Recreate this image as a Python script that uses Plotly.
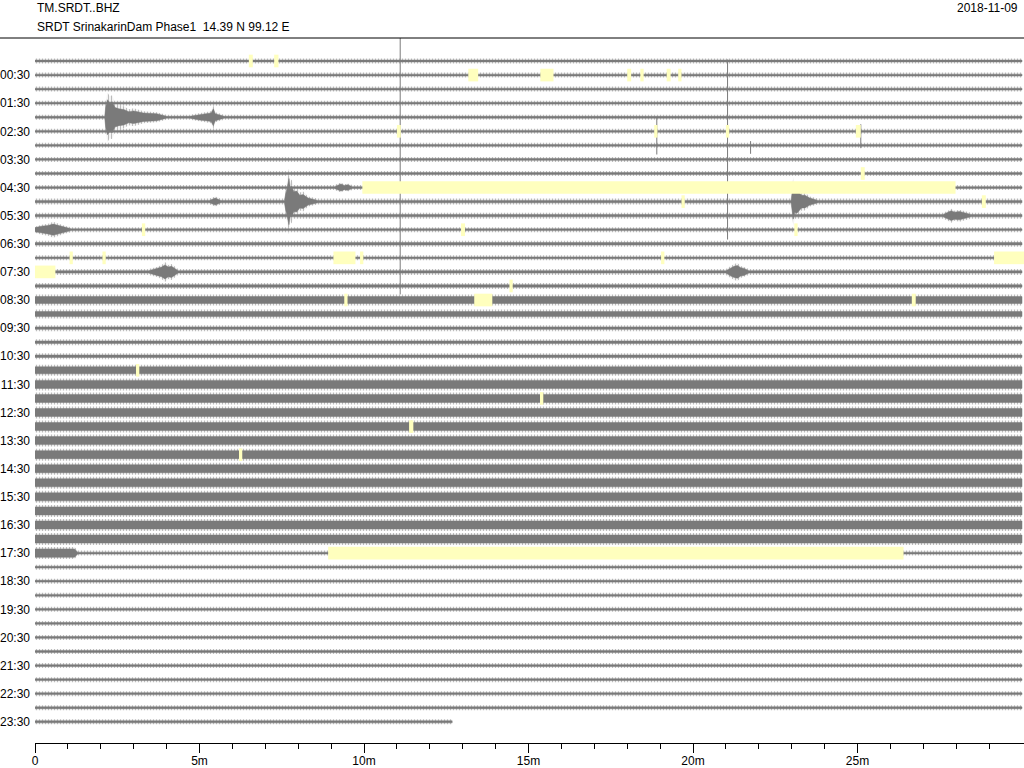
import plotly.graph_objects as go

# header text
channel = "TM.SRDT..BHZ"
station = "SRDT SrinakarinDam Phase1  14.39 N 99.12 E"
day = "2018-11-09"

# one line per 30 minutes, labels on the :30 lines
hour_labels = ["00:30", "01:30", "02:30", "03:30", "04:30", "05:30", "06:30", "07:30",
               "08:30", "09:30", "10:30", "11:30", "12:30", "13:30", "14:30", "15:30",
               "16:30", "17:30", "18:30", "19:30", "20:30", "21:30", "22:30", "23:30"]
label_rows = list(range(1, 48, 2))

minute_ticks = [0, 5, 10, 15, 20, 25]
minute_text = ["0", "5m", "10m", "15m", "20m", "25m"]

# background noise per line (half height of spikes / of the dense core)
noise_peak = [2.5, 2.5, 2.5, 2.5, 2.5, 2.5, 2.5, 2.5,
              2.5, 2.5, 3.0, 3.0, 2.5, 3.0, 2.5, 3.0,
              3.0, 5.5, 4.5, 3.0, 3.0, 3.0, 5.5, 6.0,
              6.0, 6.0, 6.0, 6.0, 6.0, 6.0, 6.0, 6.0,
              6.0, 6.0, 6.0, 2.5, 2.5, 2.5, 2.5, 2.5,
              2.5, 2.5, 2.5, 2.5, 2.5, 2.5, 2.5, 2.5]
noise_core = [0.9, 0.9, 0.9, 0.9, 0.9, 0.9, 0.9, 0.9,
              0.9, 0.9, 1.2, 1.2, 0.9, 1.2, 0.9, 1.2,
              1.2, 3.5, 2.5, 1.2, 1.2, 1.2, 3.5, 4.0,
              4.0, 4.0, 4.0, 4.0, 4.0, 4.0, 4.0, 4.0,
              4.0, 4.0, 4.0, 0.9, 0.9, 0.9, 0.9, 0.9,
              0.9, 0.9, 0.9, 0.9, 0.9, 0.9, 0.9, 1.0]
line_minutes = 30
last_line_minutes = 12.68

# events: line, envelope vertices (minute, amplitude); 0 = back to noise level
events = [
    (4, [(2.12, 0), (2.15, 15), (2.2, 25), (2.27, 21), (2.35, 22), (2.43, 14), (2.55, 12),
         (2.7, 11), (2.85, 8), (3.0, 9), (3.3, 6), (3.7, 5), (4.0, 0)]),
    (4, [(4.7, 0), (5.0, 4), (5.2, 5), (5.35, 6), (5.42, 12), (5.48, 5), (5.75, 0)]),
    (9, [(9.1, 0), (9.3, 5), (9.4, 3), (9.5, 4), (9.65, 0)]),
    (10, [(5.3, 0), (5.48, 5), (5.65, 0)]),
    (10, [(7.58, 0), (7.63, 14), (7.67, 24), (7.72, 33), (7.76, 20), (7.8, 22), (7.87, 14),
          (7.95, 15), (8.05, 9), (8.15, 10), (8.3, 5), (8.6, 0)]),
    (10, [(22.98, 0), (23.02, 16), (23.05, 25), (23.1, 15), (23.15, 17), (23.3, 9),
          (23.4, 9), (23.55, 5), (23.8, 0)]),
    (11, [(27.6, 0), (27.75, 5), (27.85, 7), (27.95, 5), (28.1, 6), (28.45, 0)]),
    (12, [(0.0, 3), (0.2, 5), (0.4, 6), (0.55, 8), (0.7, 6), (0.9, 4), (1.1, 0)]),
    (15, [(3.45, 0), (3.7, 5), (3.85, 7), (3.95, 10), (4.05, 7), (4.15, 8), (4.35, 0)]),
    (15, [(21.0, 0), (21.15, 6), (21.25, 8), (21.35, 9), (21.45, 6), (21.55, 5), (21.7, 0)]),
    (35, [(0.0, 6), (1.2, 6), (1.3, 0)]),
]

# single glitches: minute, top line, bottom line
glitches = [
    (11.1, -1.7, 16.6),
    (21.05, -0.1, 12.7),
    (18.9, 4.0, 6.65),
    (25.1, 4.5, 6.2),
    (21.75, 5.7, 6.6),
]

# data gaps: line, start minute, end minute
gaps = [
    (0, 6.5, 6.62), (0, 7.27, 7.4),
    (1, 13.17, 13.47), (1, 15.36, 15.76), (1, 18.0, 18.12), (1, 18.4, 18.5),
    (1, 19.2, 19.32), (1, 19.55, 19.65),
    (5, 11.0, 11.12), (5, 18.82, 18.92), (5, 21.0, 21.1), (5, 24.95, 25.1),
    (8, 25.1, 25.22),
    (9, 9.95, 27.98),
    (10, 19.65, 19.75), (10, 28.78, 28.9),
    (12, 3.25, 3.35), (12, 12.95, 13.07), (12, 23.08, 23.18),
    (14, 1.05, 1.15), (14, 2.05, 2.15), (14, 9.07, 9.74), (14, 9.88, 9.98),
    (14, 19.03, 19.13), (14, 29.15, 30.1),
    (15, 0.0, 0.62),
    (16, 14.42, 14.52),
    (17, 9.4, 9.5), (17, 13.35, 13.9), (17, 26.65, 26.77),
    (22, 3.07, 3.17),
    (24, 15.35, 15.45),
    (26, 11.37, 11.5),
    (28, 6.2, 6.3),
    (35, 8.91, 26.4),
]

PX = 14.06  # pixels per line
GREY = "#7a7a7a"
GAP_COLOR = "rgb(255,255,190)"


def band(levels, factor):
    xs, ys = [], []
    for r, base in enumerate(levels):
        end = last_line_minutes if r == 47 else line_minutes
        pts = [(0.0, base)]
        for er, verts in events:
            if er == r:
                pts += [(t, max(base, a * factor)) for t, a in verts]
        pts.append((end, base))
        pts.sort()
        xs += [t for t, _ in pts] + [t for t, _ in reversed(pts)] + [None]
        ys += [r - a / PX for _, a in pts] + [r + a / PX for _, a in reversed(pts)] + [None]
    return xs, ys


fig = go.Figure()

px_, py_ = band(noise_peak, 1.0)
fig.add_trace(go.Scatter(
    x=px_, y=py_, mode="lines", fill="toself", line=dict(width=0),
    fillcolor="rgba(0,0,0,0)",
    fillpattern=dict(shape="|", size=3, solidity=0.45, fgcolor=GREY, bgcolor="rgba(0,0,0,0)"),
    hoverinfo="skip", showlegend=False))

cx, cy = band(noise_core, 0.7)
fig.add_trace(go.Scatter(
    x=cx, y=cy, mode="lines", fill="toself", line=dict(width=0.5, color=GREY),
    fillcolor=GREY, hoverinfo="skip", showlegend=False))

gx, gy = [], []
for t, y0, y1 in glitches:
    gx += [t, t, None]
    gy += [y0, y1, None]
fig.add_trace(go.Scatter(x=gx, y=gy, mode="lines", line=dict(width=1, color=GREY),
                         hoverinfo="skip", showlegend=False))

for r, t0, t1 in gaps:
    fig.add_shape(type="rect", xref="x", yref="y", x0=t0, x1=t1,
                  y0=r - 0.45, y1=r + 0.45, fillcolor=GAP_COLOR,
                  line=dict(width=0), layer="above")

W, H = 1024, 768
L, R, T, B = 35, 0, 38, 25
pw, ph = W - L - R, H - T - B


def paper_x(px):
    return (px - L) / pw


def paper_y(py):
    return (H - B - py) / ph


fig.add_shape(type="line", xref="paper", yref="paper",
              x0=paper_x(0), x1=1, y0=1, y1=1, line=dict(color="black", width=1))

font = dict(family="Liberation Sans, Arial, sans-serif", size=12, color="black")
fig.add_annotation(text=channel, xref="paper", yref="paper", x=paper_x(35), y=paper_y(8),
                   xanchor="left", yanchor="middle", showarrow=False, font=font)
fig.add_annotation(text=station, xref="paper", yref="paper", x=paper_x(35), y=paper_y(27),
                   xanchor="left", yanchor="middle", showarrow=False, font=font)
fig.add_annotation(text=day, xref="paper", yref="paper", x=paper_x(1020), y=paper_y(8),
                   xanchor="right", yanchor="middle", showarrow=False, font=font)

fig.update_layout(
    width=W, height=H,
    margin=dict(l=L, r=R, t=T, b=B, pad=0, autoexpand=False),
    paper_bgcolor="white", plot_bgcolor="white",
    font=font,
    xaxis=dict(range=[0, pw / 32.9], showgrid=False, zeroline=False, automargin=False,
               showline=True, linecolor="black", linewidth=1,
               ticks="outside", ticklen=9, tickcolor="black", ticklabelstandoff=-2,
               tickmode="array", tickvals=minute_ticks, ticktext=minute_text,
               minor=dict(ticks="outside", ticklen=5, tickcolor="black",
                          tickmode="array", tickvals=list(range(1, 30)))),
    yaxis=dict(range=[(H - B - 61) / PX, (T - 61) / PX], showgrid=False, zeroline=False,
               showline=False, ticks="", automargin=False, ticklabelstandoff=4,
               tickmode="array", tickvals=label_rows, ticktext=hour_labels),
)

# drop the browser's default page margin so the figure fills the window
fig.write_html("out.html", config={"displayModeBar": False},
               post_script="document.body.style.margin='0';")
